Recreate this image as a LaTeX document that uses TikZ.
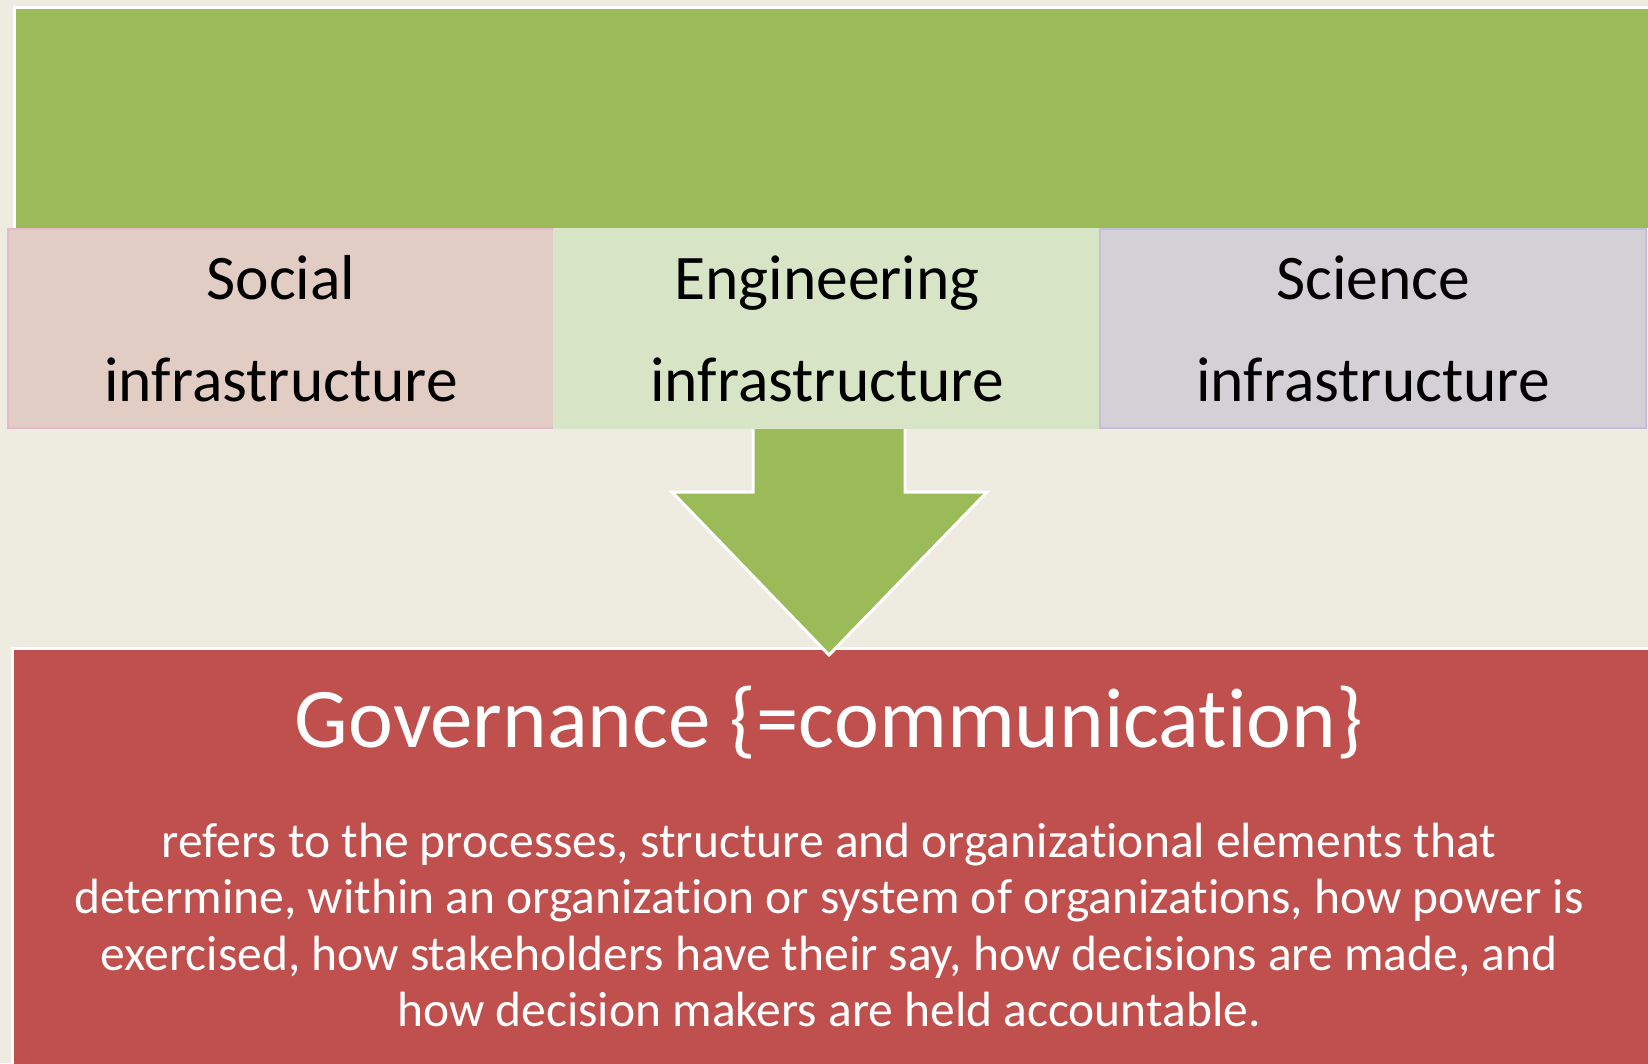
\documentclass[tikz,border=0pt]{standalone}
\usepackage{fontspec}
\setmainfont{Carlito}[Ligatures=NoCommon]
\usepackage{tikz}
\usetikzlibrary{positioning}
\definecolor{bgtan}{HTML}{EEECE1}
\definecolor{leafgreen}{HTML}{9BBB59}
\definecolor{brickred}{HTML}{C0504D}
\definecolor{socialpink}{HTML}{E2CDC5}
\definecolor{engigreen}{HTML}{D7E4C5}
\definecolor{sciegrey}{HTML}{D3D1D5}
\tikzset{band/.style = {fill=leafgreen, draw=white, line width=3pt, inner sep=0, minimum width=1636, minimum height=222}}
\tikzset{infobox/.style = {inner sep=0, minimum width=546, minimum height=199, align=center, text=black, font=\fontsize{63.5}{102}\selectfont, line width=1.5pt}}
\tikzset{govbox/.style = {fill=brickred, draw=white, line width=3pt, inner sep=0, minimum width=1640, minimum height=420}}

\begin{document}
\begin{tikzpicture}[x=1pt,y=-1pt]
        \useasboundingbox (0,0) rectangle (1648,1063);
        \fill [bgtan] (0,0) rectangle (1648,1063);
        \node [band] (top) at (832,118) {};
        \node [govbox] (gov) at (832,858) {};
        \filldraw [leafgreen, draw=white, line width=3pt, line join=miter] (753,420) -- (905,420) -- (905,492) -- (987,492) -- (829,655) -- (672,492) -- (753,492) -- cycle;
        \node [infobox, fill=socialpink, draw=socialpink!90!magenta] (social) at (281,328.5) {Social\\infrastructure};
        \node [infobox, fill=engigreen, draw=engigreen!96!white] (engi) at (827,328.5) {Engineering\\infrastructure};
        \node [infobox, fill=sciegrey, draw=sciegrey!92!blue] (scie) at (1373,328.5) {Science\\infrastructure};
        \node [text=white, font=\fontsize{85}{100}\selectfont] (govtitle) at (829,723) {Governance \{=communication\}};
        \node [text=white, align=center, font=\fontsize{49.5}{56.5}\selectfont] (govtext) at (829,925) {refers to the processes, structure and organizational elements that\\determine, within an organization or system of organizations, how power is\\exercised, how stakeholders have their say, how decisions are made, and\\how decision makers are held accountable.};
    \end{tikzpicture}
\end{document}
